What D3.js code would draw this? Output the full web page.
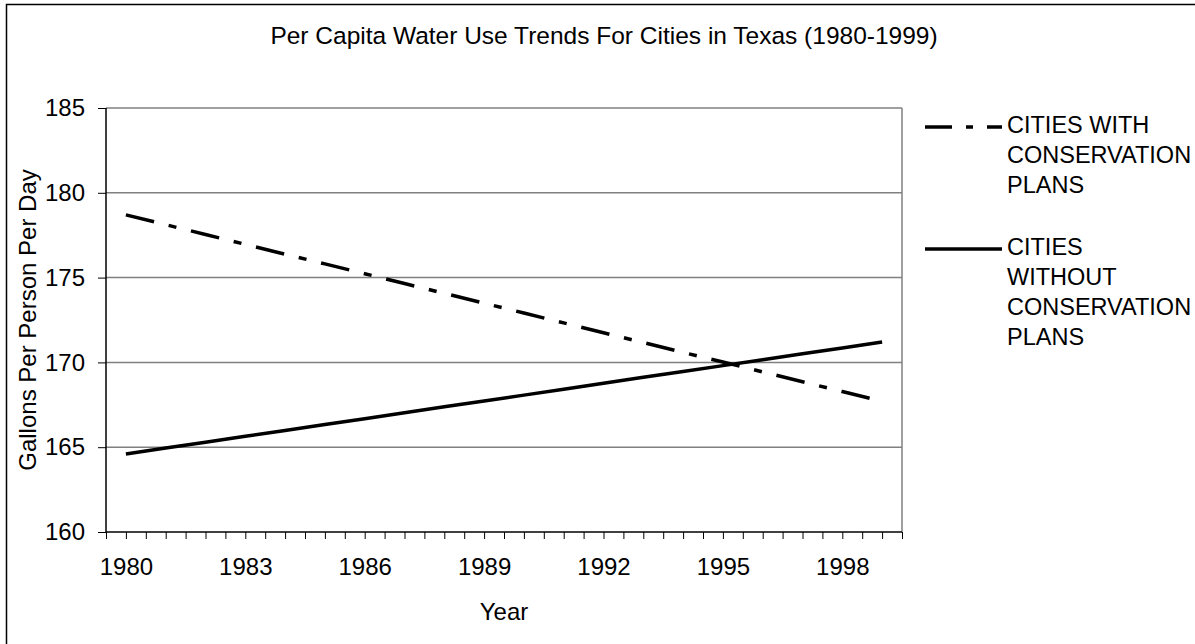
<!DOCTYPE html>
<html>
<head>
<meta charset="utf-8">
<script src="https://cdn.jsdelivr.net/npm/d3@7"></script>
<style>
  body { margin: 0; background: #fff; }
  text { font-family: Arial, "Liberation Sans", sans-serif; fill: #000; }
</style>
</head>
<body>
<div id="chart"></div>
<script>
const years = d3.range(1980, 2000);
const withPlans = [178.70, 178.12, 177.54, 176.96, 176.38, 175.81, 175.23, 174.65, 174.07, 173.49,
                   172.91, 172.33, 171.75, 171.17, 170.59, 170.02, 169.44, 168.86, 168.28, 167.70];
const withoutPlans = [164.60, 164.95, 165.29, 165.64, 165.99, 166.34, 166.68, 167.03, 167.38, 167.73,
                      168.07, 168.42, 168.77, 169.12, 169.46, 169.81, 170.16, 170.51, 170.85, 171.20];
const yTicks = [160, 165, 170, 175, 180, 185];
const labelYears = [1980, 1983, 1986, 1989, 1992, 1995, 1998];
const legendWith = ["CITIES WITH", "CONSERVATION", "PLANS"];
const legendWithout = ["CITIES", "WITHOUT", "CONSERVATION", "PLANS"];

const width = 1195;
const height = 644;
const plot = { left: 106, right: 902, top: 108, bottom: 532 };
const fontSize = 24;
const dashDot = "29,15,8,15";

const svg = d3.select("#chart")
  .append("svg")
  .attr("width", width)
  .attr("height", height);

// outer frame (runs off the right and bottom edges)
svg.append("rect")
  .attr("x", 6.5)
  .attr("y", 4.5)
  .attr("width", 1200)
  .attr("height", 660)
  .attr("fill", "none")
  .attr("stroke", "#000")
  .attr("stroke-width", 1.5);

const xScale = d3.scaleLinear()
  .domain([1979.5, 1999.5])
  .range([plot.left, plot.right]);

const yScale = d3.scaleLinear()
  .domain([160, 185])
  .range([plot.bottom, plot.top]);

// gridlines
svg.append("g")
  .selectAll("line")
  .data(yTicks.slice(1))
  .join("line")
  .attr("x1", plot.left)
  .attr("x2", plot.right)
  .attr("y1", d => yScale(d))
  .attr("y2", d => yScale(d))
  .attr("stroke", "#808080")
  .attr("stroke-width", 1.5);

// right border of the plot area
svg.append("line")
  .attr("x1", plot.right)
  .attr("x2", plot.right)
  .attr("y1", plot.top)
  .attr("y2", plot.bottom)
  .attr("stroke", "#808080")
  .attr("stroke-width", 1.5);

// y axis
const yAxisGroup = svg.append("g")
  .attr("transform", `translate(${plot.left}, 0)`)
  .call(d3.axisLeft(yScale).tickValues(yTicks).tickSize(8).tickPadding(13));

// x axis: ticks at every half year, labels every third year
const halfSteps = d3.range(1979.5, 1999.51, 0.5);
const xAxisGroup = svg.append("g")
  .attr("transform", `translate(0, ${plot.bottom})`)
  .call(d3.axisBottom(xScale)
    .tickValues(halfSteps)
    .tickSize(7)
    .tickPadding(19)
    .tickFormat(d => labelYears.includes(d) ? d : ""));

[yAxisGroup, xAxisGroup].forEach(g => {
  g.select(".domain").attr("stroke", "#000").attr("stroke-width", 1.5);
  g.selectAll(".tick line").attr("stroke", "#000").attr("stroke-width", 1);
  g.selectAll(".tick text").attr("font-size", fontSize).attr("fill", "#000");
});
xAxisGroup.select(".domain").attr("d", `M${plot.left},0H${plot.right}`);
yAxisGroup.select(".domain").attr("d", `M0,${plot.top}V${plot.bottom}`);
xAxisGroup.selectAll(".tick text").attr("dy", "0.71em");

// lines
const line = d3.line()
  .x((d, i) => xScale(years[i]))
  .y(d => yScale(d));

svg.append("path")
  .datum(withPlans)
  .attr("d", line)
  .attr("fill", "none")
  .attr("stroke", "#000")
  .attr("stroke-width", 3.5)
  .attr("stroke-dasharray", dashDot);

svg.append("path")
  .datum(withoutPlans)
  .attr("d", line)
  .attr("fill", "none")
  .attr("stroke", "#000")
  .attr("stroke-width", 3.5);

// title and axis titles
svg.append("text")
  .attr("x", 604)
  .attr("y", 44)
  .attr("text-anchor", "middle")
  .attr("font-size", 24.5)
  .text("Per Capita Water Use Trends For Cities in Texas (1980-1999)");

svg.append("text")
  .attr("x", (plot.left + plot.right) / 2)
  .attr("y", 620)
  .attr("text-anchor", "middle")
  .attr("font-size", fontSize)
  .text("Year");

svg.append("text")
  .attr("transform", "rotate(-90)")
  .attr("x", -(plot.top + plot.bottom) / 2)
  .attr("y", 36)
  .attr("text-anchor", "middle")
  .attr("font-size", fontSize)
  .text("Gallons Per Person Per Day");

// legend
function legendEntry(y, lines, dash) {
  svg.append("line")
    .attr("x1", 925)
    .attr("x2", 1002)
    .attr("y1", y)
    .attr("y2", y)
    .attr("stroke", "#000")
    .attr("stroke-width", 3.5)
    .attr("stroke-dasharray", dash);

  svg.append("g")
    .selectAll("text")
    .data(lines)
    .join("text")
    .attr("x", 1007)
    .attr("y", (d, i) => y + 6 + i * 30)
    .attr("font-size", 23.5)
    .text(d => d);
}

legendEntry(127, legendWith, "27,14,7,14");
legendEntry(249, legendWithout, null);
</script>
</body>
</html>
